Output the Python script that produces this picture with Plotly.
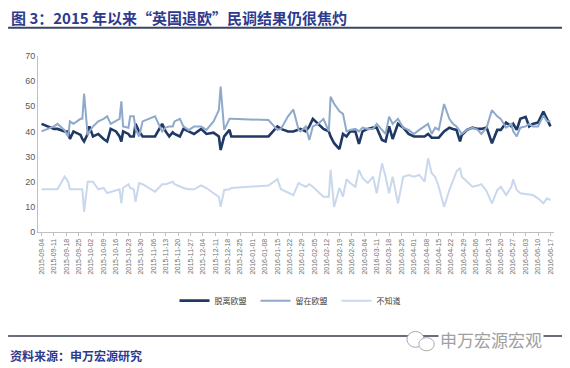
import plotly.graph_objects as go

dates = [
    "2015-09-04", "2015-09-08", "2015-09-11", "2015-09-13", "2015-09-17", "2015-09-19",
    "2015-09-20", "2015-09-22", "2015-09-26", "2015-09-27", "2015-09-28", "2015-09-30",
    "2015-10-01", "2015-10-03", "2015-10-06", "2015-10-09", "2015-10-11", "2015-10-13",
    "2015-10-16", "2015-10-18", "2015-10-19", "2015-10-20", "2015-10-23", "2015-10-24",
    "2015-10-26", "2015-10-27", "2015-10-29", "2015-10-31", "2015-11-07", "2015-11-11",
    "2015-11-13", "2015-11-15", "2015-11-17", "2015-11-18", "2015-11-21", "2015-11-23",
    "2015-11-26", "2015-11-29", "2015-12-03", "2015-12-06", "2015-12-10", "2015-12-13",
    "2015-12-14", "2015-12-16", "2015-12-19", "2015-12-20", "2016-01-10", "2016-01-15",
    "2016-01-17", "2016-01-21", "2016-01-24", "2016-01-27", "2016-01-28", "2016-01-31",
    "2016-02-02", "2016-02-04", "2016-02-07", "2016-02-10", "2016-02-13", "2016-02-14",
    "2016-02-16", "2016-02-19", "2016-02-21", "2016-02-23", "2016-02-25", "2016-02-28",
    "2016-03-01", "2016-03-03", "2016-03-06", "2016-03-09", "2016-03-11", "2016-03-14",
    "2016-03-16", "2016-03-18", "2016-03-20", "2016-03-23", "2016-03-26", "2016-03-29",
    "2016-04-01", "2016-04-04", "2016-04-07", "2016-04-09", "2016-04-11", "2016-04-13",
    "2016-04-15", "2016-04-18", "2016-04-21", "2016-04-23", "2016-04-25", "2016-04-27",
    "2016-04-28", "2016-05-01", "2016-05-04", "2016-05-07", "2016-05-09", "2016-05-12",
    "2016-05-15", "2016-05-18", "2016-05-20", "2016-05-23", "2016-05-26", "2016-05-27",
    "2016-05-29", "2016-05-31", "2016-06-03", "2016-06-05", "2016-06-07", "2016-06-10",
    "2016-06-13", "2016-06-15", "2016-06-17",
]

leave = [
    43, 42, 41, 41, 40, 40, 37, 40, 38.6, 37, 36, 39,
    42, 38, 39, 37, 36, 41, 40, 38, 36, 40, 39, 38,
    38, 43, 40, 38, 38, 43, 40, 38, 39.6, 39, 38, 41,
    40, 39, 41, 39, 39.5, 38, 32.6, 38, 40.6, 38, 38, 42,
    41, 40, 40, 40.6, 41, 40, 42, 45, 43, 41, 40, 38,
    35.3, 33, 39, 38, 40, 40, 35, 40, 41, 41.5, 41.5, 36.6,
    36, 42, 37, 43, 41.5, 39, 38, 38, 38, 39, 37.5, 37.5,
    37.5, 40, 41.5, 41, 40.6, 36, 38.6, 40.6, 41.5, 41, 41, 41.5,
    35.3, 40.6, 40.6, 43.5, 42, 43, 40.6, 45, 45.8, 42, 43, 43.5,
    47.9, 45, 42,
]

remain = [
    40, 41, 42, 43, 40.5, 38, 44, 43, 45, 45, 55, 38.5,
    40, 42, 44, 45, 46, 43, 44, 45, 52, 42, 41.5, 46,
    46, 41, 38, 44, 46, 40, 41.5, 42, 42, 44, 45, 42,
    40.5, 42, 42, 40.6, 44, 48.5, 57.8, 40.6, 45, 45, 44.5, 40.6,
    41, 46, 48.7, 40.6, 40, 42, 36.6, 42, 43, 45, 40, 53.8,
    51, 48, 47, 40, 40.6, 41, 40, 41.5, 41, 41, 43, 40.6,
    39, 45.9, 43, 45, 41.5, 40.6, 39, 40.6, 42, 43, 39, 41.5,
    40.6, 50.9, 45, 43, 42, 40, 39, 40.6, 41.5, 40.6, 39, 41.5,
    48.5, 46, 45, 41.5, 43, 40, 38, 41.5, 42, 43, 42, 42,
    46.3, 44, 44,
]

dont_know = [
    17, 17, 17, 17, 22, 20, 17, 17, 17, 17, 8, 20,
    20, 20, 17, 17.5, 15.5, 16, 16.5, 17, 11.4, 17.5, 19, 17.5,
    17, 12, 19.5, 19, 16, 19, 19, 19.5, 20, 19, 18, 17.5,
    17, 17, 18.5, 17.5, 15.4, 14, 10, 16.7, 17, 17.5, 18.5, 21,
    17, 15.5, 14.7, 19.5, 19, 18, 19, 18, 16, 14, 14, 24.7,
    10, 17.5, 14, 21, 19.5, 18, 24.7, 21.5, 19.5, 22, 15.4, 27.3,
    22, 15.4, 22, 11.4, 22, 22.7, 22, 22.7, 20, 29.3, 23.4, 22,
    18, 10, 16.7, 20, 24, 25.5, 22, 20, 18, 18.5, 19, 16.2,
    11.4, 16.7, 18, 14.7, 18, 21, 16.7, 15.4, 15, 14.7, 14.7, 13.4,
    11.4, 13.4, 12.7,
]

series_names = ["脱离欧盟", "留在欧盟", "不知道"]
title_text = "图 3：2015 年以来“英国退欧”民调结果仍很焦灼"
source_text = "资料来源：申万宏源研究"
watermark_text = "申万宏源宏观"

colors = ["#1F3864", "#8EA9CB", "#C9D8EC"]
widths = [2.6, 2.0, 2.0]

fig = go.Figure()
for name, vals, c, w in zip(series_names, [leave, remain, dont_know], colors, widths):
    fig.add_trace(go.Scatter(x=dates, y=vals, mode="lines", name=name,
                             line=dict(color=c, width=w)))

navy = "#2E3A8C"
cjk = "Noto Sans CJK SC"
fig.update_layout(
    width=570, height=368,
    margin=dict(l=30, r=24, t=48, b=144),
    paper_bgcolor="white", plot_bgcolor="white",
    showlegend=True,
    legend=dict(orientation="h", x=0.5, xanchor="center", y=-0.39, yanchor="middle",
                font=dict(family=cjk, size=8, color="#404040"), itemwidth=30,
                entrywidth=36, entrywidthmode="pixels", tracegroupgap=0),
    annotations=[
        dict(text="<b>" + title_text + "</b>", xref="paper", yref="paper",
             x=-0.056, y=1.22, xanchor="left", yanchor="middle", showarrow=False,
             font=dict(family=cjk, size=15, color=navy)),
        dict(text="<b>" + source_text + "</b>", xref="paper", yref="paper",
             x=-0.058, y=-0.70, xanchor="left", yanchor="middle", showarrow=False,
             font=dict(family=cjk, size=12, color=navy)),
        dict(text=watermark_text, xref="paper", yref="paper",
             x=0.775, y=-0.612, xanchor="left", yanchor="middle", showarrow=False,
             bgcolor="white", font=dict(family=cjk, size=17, color="#A0A0A0")),
    ],
    shapes=[
        dict(type="line", xref="paper", yref="paper", x0=-0.058, x1=1.02, y0=1.16, y1=1.16,
             line=dict(color="#3A4660", width=2)),
        dict(type="line", xref="paper", yref="paper", x0=-0.058, x1=1.02, y0=-0.591, y1=-0.591,
             line=dict(color="#3A3A50", width=1.5)),
        dict(type="circle", xref="paper", yref="paper", x0=0.715, x1=0.748, y0=-0.655, y1=-0.565,
             line=dict(color="#AAAAAA", width=1), fillcolor="white"),
        dict(type="circle", xref="paper", yref="paper", x0=0.738, x1=0.768, y0=-0.675, y1=-0.6,
             line=dict(color="#AAAAAA", width=1), fillcolor="white"),
    ],
)

fig.update_xaxes(
    type="date", range=["2015-09-02", "2016-06-19"],
    tick0="2015-09-04", dtick=7 * 86400000, tickformat="%Y-%m-%d", tickangle=-90,
    showline=True, linecolor="#BFBFBF", linewidth=1,
    ticks="outside", ticklen=3, tickcolor="#BFBFBF",
    showgrid=False, zeroline=False,
    tickfont=dict(family="Liberation Sans", size=7, color="#707070"),
)
fig.update_yaxes(
    range=[0, 70], dtick=10,
    showline=True, linecolor="#BFBFBF", linewidth=1,
    ticks="", showgrid=False, zeroline=False,
    tickfont=dict(family="Liberation Sans", size=9, color="#595959"),
)

fig.write_html("out.html")
